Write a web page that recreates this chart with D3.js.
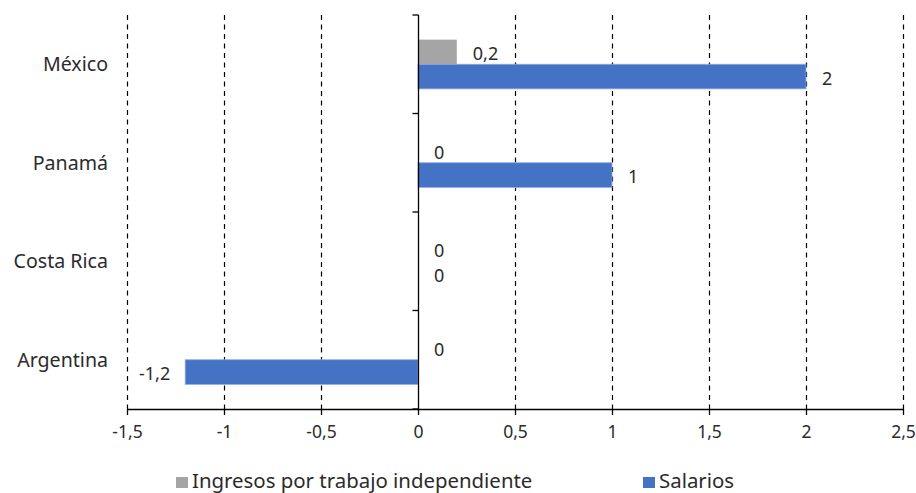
<!DOCTYPE html>
<html>
<head>
<meta charset="utf-8">
<script src="https://cdn.jsdelivr.net/npm/d3@7/dist/d3.min.js"></script>
<style>
  html, body { margin: 0; padding: 0; background: #fff; }
  svg { display: block; font-family: "Noto Sans", "Open Sans", sans-serif; }
</style>
</head>
<body>
<svg id="chart" width="916" height="493"></svg>
<script>
// Countries, top to bottom
const categories = ["México", "Panamá", "Costa Rica", "Argentina"];
// Contribution by income source
const ingresosIndependiente = [0.2, 0, 0, 0];
const salarios = [2, 1, 0, -1.2];
const seriesNames = ["Ingresos por trabajo independiente", "Salarios"];
const seriesColors = ["#A5A5A5", "#4472C4"];
const xTicks = [-1.5, -1, -0.5, 0, 0.5, 1, 1.5, 2, 2.5];

const fmt = v => String(v).replace(".", ",");

const svg = d3.select("#chart");
const plotLeft = 127, plotRight = 903, plotTop = 15, plotBottom = 409;

const x = d3.scaleLinear().domain([-1.5, 2.5]).range([plotLeft, plotRight]);
const y = d3.scaleBand().domain(categories).range([plotTop, plotBottom]).paddingInner(0.5).paddingOuter(0.25);
const ySub = d3.scaleBand().domain([0, 1]).range([0, y.bandwidth()]);

const textColor = "#2b2b2b";

// Dashed vertical gridlines
svg.append("g")
  .selectAll("line")
  .data(xTicks.filter(t => t !== 0))
  .join("line")
  .attr("x1", d => Math.round(x(d)) + 0.5)
  .attr("x2", d => Math.round(x(d)) + 0.5)
  .attr("y1", plotTop)
  .attr("y2", plotBottom)
  .attr("stroke", "#000")
  .attr("stroke-width", 1.2)
  .attr("stroke-dasharray", "5,4.5");

// Bars
const series = [ingresosIndependiente, salarios];
series.forEach((vals, si) => {
  svg.append("g")
    .selectAll("rect")
    .data(vals)
    .join("rect")
    .attr("x", d => x(Math.min(0, d)))
    .attr("width", d => Math.abs(x(d) - x(0)))
    .attr("y", (d, i) => y(categories[i]) + ySub(si))
    .attr("height", ySub.bandwidth())
    .attr("fill", seriesColors[si])
    .attr("stroke", d => d === 0 ? "none" : (si === 1 ? "#8FAADC" : "none"))
    .attr("stroke-width", 0.8);
});

// Value labels
series.forEach((vals, si) => {
  svg.append("g")
    .selectAll("text")
    .data(vals)
    .join("text")
    .attr("x", d => d < 0 ? x(d) - 15 : x(d) + 16)
    .attr("y", (d, i) => y(categories[i]) + ySub(si) + ySub.bandwidth() / 2 + 2)
    .attr("dy", "0.35em")
    .attr("text-anchor", d => d < 0 ? "end" : "start")
    .attr("font-size", 18)
    .attr("fill", textColor)
    .text(d => fmt(d));
});

// Vertical axis at zero with band-boundary ticks
const yAxis = svg.append("g").attr("stroke", "#000").attr("stroke-width", 1.3);
const x0 = Math.round(x(0)) + 0.5;
yAxis.append("line").attr("x1", x0).attr("x2", x0).attr("y1", plotTop).attr("y2", plotBottom);
const bounds = d3.range(categories.length + 1).map(i => plotTop + i * (plotBottom - plotTop) / categories.length);
yAxis.selectAll("line.tick")
  .data(bounds)
  .join("line")
  .attr("class", "tick")
  .attr("x1", x0 - 6).attr("x2", x0)
  .attr("y1", d => d).attr("y2", d => d);

// Horizontal axis
const xAxis = d3.axisBottom(x).tickValues(xTicks).tickSize(6).tickSizeOuter(0).tickFormat(fmt);
const gx = svg.append("g").attr("transform", `translate(0,${plotBottom})`).call(xAxis);
gx.select(".domain").attr("stroke", "#000").attr("stroke-width", 1.3);
gx.selectAll(".tick line").attr("stroke", "#000").attr("stroke-width", 1.3);
gx.selectAll(".tick text")
  .attr("font-size", 17.5)
  .attr("font-family", "Noto Sans, sans-serif")
  .attr("fill", textColor)
  .attr("y", 17)
  .attr("dy", "0.71em");

// Category labels
svg.append("g")
  .selectAll("text")
  .data(categories)
  .join("text")
  .attr("x", 108)
  .attr("y", d => y(d) + y.bandwidth() / 2)
  .attr("dy", "0.35em")
  .attr("text-anchor", "end")
  .attr("font-size", 19.6)
  .attr("fill", textColor)
  .text(d => d);

// Legend
const legendX = [176, 643];
const legend = svg.append("g");
seriesNames.forEach((name, i) => {
  legend.append("rect")
    .attr("x", legendX[i]).attr("y", 477)
    .attr("width", 12).attr("height", 11)
    .attr("fill", seriesColors[i]);
  legend.append("text")
    .attr("x", legendX[i] + 16).attr("y", 488)
    .attr("font-size", 20.4)
    .attr("fill", textColor)
    .text(name);
});
</script>
</body>
</html>
